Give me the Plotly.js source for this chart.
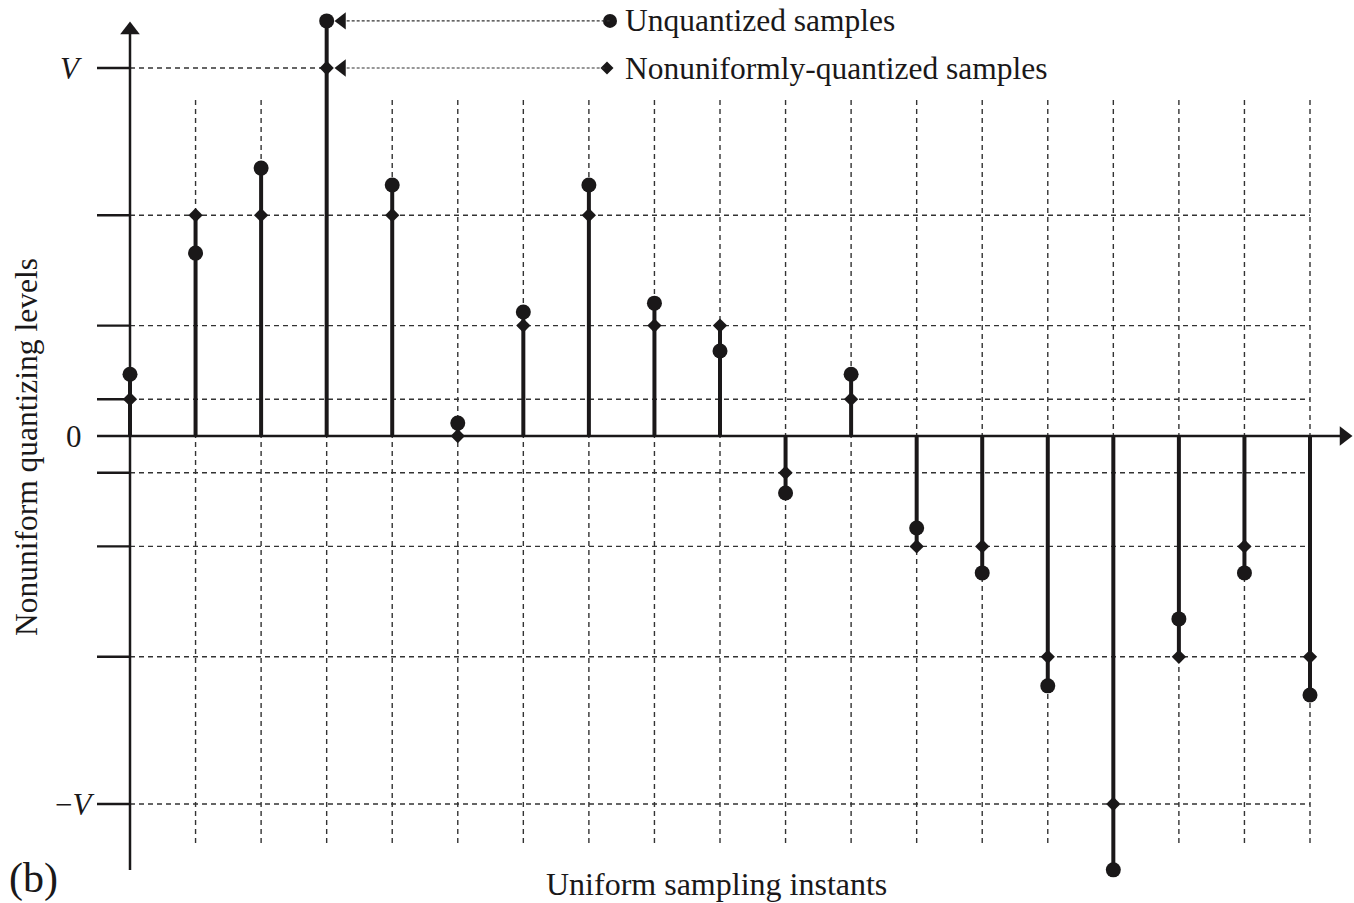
<!DOCTYPE html>
<html>
<head>
<meta charset="utf-8">
<script src="https://cdn.plot.ly/plotly-3.0.1.min.js"></script>
<style>html,body{margin:0;padding:0;background:#fff;}#chart{width:1354px;height:903px;}</style>
</head>
<body>
<div id="chart"></div>
<script>
// ---- data (in units of V) ----
const samples = [0,1,2,3,4,5,6,7,8,9,10,11,12,13,14,15,16,17,18];
const unquantized = [0.168,0.497,0.728,1.128,0.682,0.035,0.337,0.682,0.361,0.231,-0.155,0.168,-0.25,-0.372,-0.679,-1.179,-0.497,-0.372,-0.704];
const quantized   = [0.1,0.6,0.6,1.0,0.6,0,0.3,0.6,0.3,0.3,-0.1,0.1,-0.3,-0.3,-0.6,-1.0,-0.6,-0.3,-0.6];
const levels = [1, 0.6, 0.3, 0.1, 0, -0.1, -0.3, -0.6, -1];
const levelLabels = {"1":"<i>V</i>", "0":"0", "-1":"−<i>V</i>"};
const legendNames = ["Unquantized samples", "Nonuniformly-quantized samples"];
const xTitle = "Uniform sampling instants";
const yTitle = "Nonuniform quantizing levels";
const panelLabel = "(b)";

// ---- geometry helpers (pixel mapping of the frame) ----
const W = 1354, H = 903;
const px0 = 130, pxStep = (1310 - 130) / 18;   // sample 0 at x=130px, sample 18 at 1310px
const py0 = 436, pyUnit = 368;                 // 0 at y=436px, V at 68px
const X = p => (p - px0) / pxStep;
const Y = p => (py0 - p) / pyUnit;

const INK = '#1a1819';
const GRID = '#333333';
const FONT = 'Liberation Serif, Times New Roman, serif';
const DASH = '5px,4px';

const nMax = samples[samples.length - 1];
const iPeak = unquantized.indexOf(Math.max(...unquantized));

// stems
const sx = [], sy = [];
samples.forEach((s, i) => {
  const ext = Math.abs(unquantized[i]) >= Math.abs(quantized[i]) ? unquantized[i] : quantized[i];
  sx.push(s, s, null); sy.push(0, ext, null);
});

const shapes = [];
// vertical dashed grid at each sampling instant
samples.slice(1).forEach(s => {
  shapes.push({type:'line', layer:'below', xref:'x', yref:'y', x0:s, x1:s, y0:Y(100), y1:Y(843),
    line:{color:GRID, width:1.4, dash:DASH}});
});
// horizontal dashed grid at quantizing levels
levels.forEach(l => {
  if (l === 0) return;
  const xEnd = (l === 1) ? samples[iPeak] : nMax;
  shapes.push({type:'line', layer:'below', xref:'x', yref:'y', x0:0, x1:xEnd, y0:l, y1:l,
    line:{color:GRID, width:1.4, dash:DASH}});
});
// short solid ticks left of the axis
levels.forEach(l => {
  shapes.push({type:'line', xref:'x', yref:'y', x0:X(97), x1:0, y0:l, y1:l,
    line:{color:INK, width:2.4}});
});
// axes
shapes.push({type:'line', xref:'x', yref:'y', x0:0, x1:X(1342), y0:0, y1:0, line:{color:INK, width:2.5}});
shapes.push({type:'line', xref:'x', yref:'y', x0:0, x1:0, y0:Y(870), y1:Y(32), line:{color:INK, width:2.5}});
// legend leader lines (dashed) from legend marker to peak sample
const legY = [unquantized[iPeak], quantized[iPeak]];
const legX = [X(610), X(607)];
legY.forEach((y, k) => {
  shapes.push({type:'line', xref:'x', yref:'y', x0:samples[iPeak] + (X(345)-X(325)), x1:legX[k], y0:y, y1:y,
    line:{color:GRID, width:1.2, dash:'3px,2px'}});
});

const traces = [
  {x:sx, y:sy, mode:'lines', line:{color:INK, width:4}, hoverinfo:'skip', showlegend:false},
  {x:samples, y:quantized, mode:'markers', marker:{symbol:'diamond', size:11, color:INK}, showlegend:false, name:legendNames[1]},
  {x:samples, y:unquantized, mode:'markers', marker:{symbol:'circle', size:15, color:INK}, showlegend:false, name:legendNames[0]},
  // legend markers
  {x:[legX[0]], y:[legY[0]], mode:'markers', marker:{symbol:'circle', size:14, color:INK}, showlegend:false, hoverinfo:'skip'},
  {x:[legX[1]], y:[legY[1]], mode:'markers', marker:{symbol:'diamond', size:10, color:INK}, showlegend:false, hoverinfo:'skip'},
  // arrowheads of leader lines
  {x:[X(342), X(342)], y:legY, mode:'markers', marker:{symbol:'triangle-left', size:15, color:INK}, showlegend:false, hoverinfo:'skip'},
  // axis arrowheads
  {x:[0], y:[Y(30)], mode:'markers', marker:{symbol:'triangle-up', size:17, color:INK}, showlegend:false, hoverinfo:'skip'},
  {x:[X(1344)], y:[0], mode:'markers', marker:{symbol:'triangle-right', size:17, color:INK}, showlegend:false, hoverinfo:'skip'}
];

const annotations = [];
Object.keys(levelLabels).forEach(k => {
  const l = Number(k);
  annotations.push({xref:'x', yref:'y', x: l === -1 ? X(96) : X(84), y:l, xanchor:'right', yanchor:'middle',
    text:levelLabels[k], showarrow:false, font:{family:FONT, size:31, color:INK}});
});
legendNames.forEach((t, k) => {
  annotations.push({xref:'x', yref:'y', x:X(623), y:legY[k], xanchor:'left', yanchor:'middle',
    text:t, showarrow:false, font:{family:FONT, size:31.5, color:INK}});
});
annotations.push({xref:'x', yref:'y', x:X(716), y:Y(884), xanchor:'center', yanchor:'middle',
  text:xTitle, showarrow:false, font:{family:FONT, size:32, color:INK}});
annotations.push({xref:'x', yref:'y', x:X(26), y:Y(447), xanchor:'center', yanchor:'middle', textangle:-90,
  text:yTitle, showarrow:false, font:{family:FONT, size:31.5, color:INK}});
annotations.push({xref:'x', yref:'y', x:X(7), y:Y(878), xanchor:'left', yanchor:'middle',
  text:panelLabel, showarrow:false, font:{family:FONT, size:42, color:INK}});

const layout = {
  width:W, height:H,
  margin:{l:0, r:0, t:0, b:0},
  paper_bgcolor:'#ffffff', plot_bgcolor:'#ffffff',
  showlegend:false,
  xaxis:{range:[X(0), X(W)], visible:false, fixedrange:true},
  yaxis:{range:[Y(H), Y(0)], visible:false, fixedrange:true},
  shapes:shapes,
  annotations:annotations
};

Plotly.newPlot('chart', traces, layout, {displayModeBar:false, staticPlot:true});
</script>
</body>
</html>
